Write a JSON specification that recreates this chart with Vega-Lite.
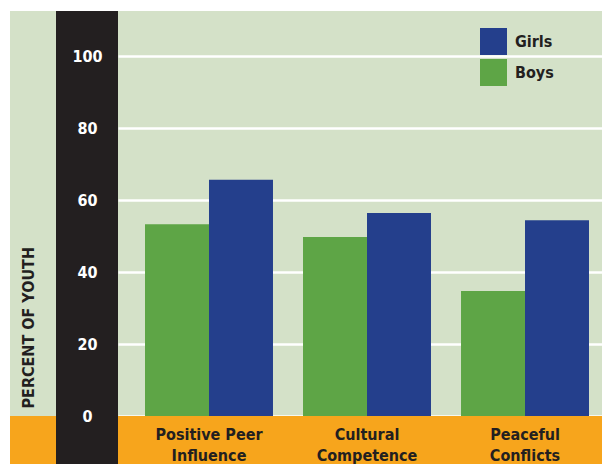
{
  "$schema": "https://vega.github.io/schema/vega-lite/v6.json",
  "background": "white",
  "padding": {"left": 10, "top": 11, "right": 0, "bottom": 0},
  "spacing": 0,
  "config": {
    "view": {"stroke": null},
    "font": "DejaVu Sans Condensed, Liberation Sans Narrow, Roboto"
  },
  "datasets": {
    "youth": [
      {"outcome": "Positive Peer Influence", "gender": "Boys", "percent": 53.3},
      {"outcome": "Positive Peer Influence", "gender": "Girls", "percent": 65.6},
      {"outcome": "Cultural Competence", "gender": "Boys", "percent": 49.7},
      {"outcome": "Cultural Competence", "gender": "Girls", "percent": 56.4},
      {"outcome": "Peaceful Conflicts", "gender": "Boys", "percent": 34.7},
      {"outcome": "Peaceful Conflicts", "gender": "Girls", "percent": 54.4}
    ]
  },
  "hconcat": [
    {
      "width": 46,
      "height": 453,
      "view": {"fill": "#d4e1c8", "stroke": null},
      "data": {"values": [{}]},
      "mark": {"type": "rect", "color": "#f7a51c"},
      "encoding": {
        "y": {
          "datum": -13.33,
          "type": "quantitative",
          "scale": {"domain": [-13.33, 112.5], "nice": false, "zero": false},
          "axis": {
            "title": "PERCENT OF YOUTH",
            "labels": false,
            "ticks": false,
            "domain": false,
            "grid": false,
            "minExtent": 0,
            "maxExtent": 0,
            "titleAngle": 270,
            "titleX": 18,
            "titleY": 397,
            "titleAlign": "left",
            "titleBaseline": "middle",
            "titleFontSize": 16,
            "titleFontWeight": "bold",
            "titleColor": "#231f20",
            "titleFont": "DejaVu Sans Condensed, Liberation Sans Narrow, Roboto"
          }
        },
        "y2": {"datum": 0}
      }
    },
    {
      "width": 62,
      "height": 453,
      "view": {"fill": "#231f20", "stroke": null},
      "data": {"values": [{}]},
      "mark": {"type": "rect", "color": "#231f20", "opacity": 0},
      "encoding": {
        "y": {
          "datum": -13.33,
          "type": "quantitative",
          "scale": {"domain": [-13.33, 112.5], "nice": false, "zero": false},
          "axis": {
            "title": null,
            "values": [0, 20, 40, 60, 80, 100],
            "offset": -31,
            "domain": false,
            "ticks": false,
            "tickSize": 0,
            "grid": false,
            "zindex": 1,
            "labelPadding": 0,
            "labelAlign": "center",
            "labelBaseline": "middle",
            "labelColor": "white",
            "labelFontSize": 16,
            "labelFontWeight": "bold",
            "minExtent": 0,
            "maxExtent": 0
          }
        },
        "y2": {"datum": 0}
      }
    },
    {
      "width": 484,
      "height": 453,
      "view": {"fill": "#d4e1c8", "stroke": null},
      "layer": [
        {
          "data": {"values": [{}]},
          "mark": {"type": "rect", "color": "#f7a51c"},
          "encoding": {
            "y": {"datum": -13.33, "type": "quantitative"},
            "y2": {"datum": 0}
          }
        },
        {
          "data": {"name": "youth"},
          "mark": {"type": "bar"},
          "encoding": {
            "x": {
              "field": "outcome",
              "type": "nominal",
              "sort": ["Positive Peer Influence", "Cultural Competence", "Peaceful Conflicts"],
              "scale": {"paddingInner": 0.19, "paddingOuter": 0.1266, "align": 0.675},
              "axis": {
                "title": null,
                "domain": false,
                "ticks": false,
                "grid": false,
                "zindex": 1,
                "offset": -48,
                "labelAngle": 0,
                "labelPadding": 10,
                "labelBaseline": "top",
                "labelLineHeight": 21.5,
                "labelFontSize": 16,
                "labelFontWeight": "bold",
                "labelColor": "#231f20",
                "labelExpr": "datum.label == 'Positive Peer Influence' ? ['Positive Peer', 'Influence'] : split(datum.label, ' ')"
              }
            },
            "xOffset": {
              "field": "gender",
              "type": "nominal",
              "scale": {"domain": ["Boys", "Girls"]}
            },
            "y": {
              "field": "percent",
              "type": "quantitative",
              "scale": {"domain": [-13.33, 112.5], "nice": false, "zero": false},
              "axis": {
                "title": null,
                "values": [0, 20, 40, 60, 80, 100],
                "domain": false,
                "ticks": false,
                "labels": false,
                "grid": true,
                "gridColor": "white",
                "gridWidth": 2.5,
                "gridOpacity": 1,
                "minExtent": 0,
                "maxExtent": 0
              }
            },
            "y2": {"datum": 0},
            "color": {
              "field": "gender",
              "type": "nominal",
              "scale": {"domain": ["Girls", "Boys"], "range": ["#243f8c", "#5ea546"]},
              "legend": {
                "title": null,
                "orient": "none",
                "legendX": 470,
                "legendY": 17,
                "padding": 0,
                "symbolType": "square",
                "symbolSize": 729,
                "symbolStrokeWidth": 0,
                "symbolOpacity": 1,
                "labelOffset": 8,
                "rowPadding": 4,
                "labelFontSize": 16,
                "labelFontWeight": "bold",
                "labelColor": "#231f20"
              }
            }
          }
        }
      ]
    }
  ]
}
